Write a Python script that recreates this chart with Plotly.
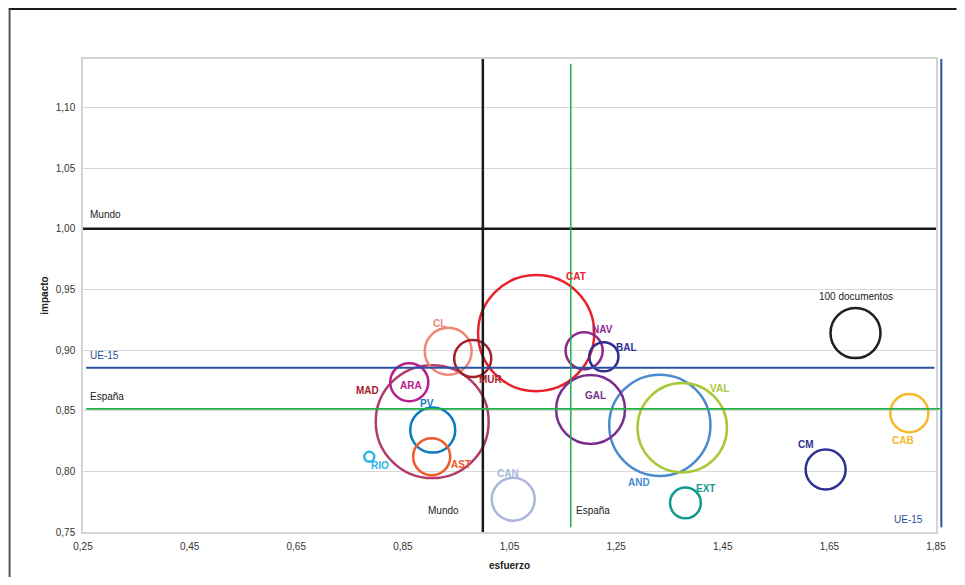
import plotly.graph_objects as go

# ---- data ----
regions = ["CAT", "MAD", "AND", "VAL", "GAL", "CL", "PV", "CAN", "CM", "ARA",
           "CAB", "MUR", "NAV", "AST", "EXT", "BAL", "RIO"]
esfuerzo = [1.100, 0.905, 1.332, 1.374, 1.202, 0.935, 0.906, 1.057, 1.643, 0.862,
            1.800, 0.981, 1.190, 0.904, 1.380, 1.227, 0.787]
impacto = [0.914, 0.841, 0.838, 0.836, 0.851, 0.899, 0.834, 0.777, 0.8015, 0.8735,
           0.848, 0.893, 0.8995, 0.812, 0.774, 0.8945, 0.812]
documentos = [540, 510, 410, 320, 190, 88, 81, 74, 64, 58,
              58, 55, 55, 55, 38, 34, 4]
colores = ["#e8212b", "#b23a6c", "#4a8bd0", "#a8c83a", "#7b2d8e", "#f08878", "#0a7cc1",
           "#a9b7db", "#2e3192", "#b5208e", "#f7b82a", "#a3212b", "#8e2a8e", "#f05a28",
           "#139a8e", "#2e3192", "#2bb5e3"]
label_colores = ["#e8212b", "#a3212b", "#4a8bd0", "#a8c83a", "#7b2d8e", "#f08878", "#0a7cc1",
                 "#a9b7db", "#2e3192", "#b5208e", "#f7b82a", "#a3212b", "#8e2a8e", "#f05a28",
                 "#139a8e", "#2e3192", "#2bb5e3"]
# label offsets (px) relative to bubble centre
label_dx = [40, -65, -21, 37, 5, -9, -6, -5, -20, 2, -6, 18, 18, 29, 20, 23, 11]
label_dy = [57, 31, -57, 39, 14, 28, 27, 26, 25, -3, -27, -21, 21, -8, 14, 9, -9]

ref_mundo = 1.00
ref_ue15_y = 0.8855
ref_espana_y = 0.8515
ref_espana_x = 1.165
ref_ue15_x = 1.86

leyenda_x, leyenda_y, leyenda_docs = 1.699, 0.914, 100

XR = [0.25, 1.85]
YR = [0.75, 1.14]
x_ticks = [0.25, 0.45, 0.65, 0.85, 1.05, 1.25, 1.45, 1.65, 1.85]
y_ticks = [0.75, 0.80, 0.85, 0.90, 0.95, 1.00, 1.05, 1.10]

FONT = "Liberation Sans, Arial, sans-serif"
D100 = 50  # px diameter for 100 documentos
sizeref = 2 * leyenda_docs / D100 ** 2

W, H = 949, 569
ML, MR, MT, MB = 74.5, 20.5, 51.3, 45
PW, PH = W - ML - MR, H - MT - MB


def px_(x):
    return (x - XR[0]) / (XR[1] - XR[0])


def py_(y):
    return (y - YR[0]) / (YR[1] - YR[0])


fig = go.Figure()
fig.add_trace(go.Scatter(
    x=esfuerzo, y=impacto, mode="markers",
    marker=dict(size=documentos, sizemode="area", sizeref=sizeref, opacity=1,
                color="rgba(0,0,0,0)", line=dict(color=colores, width=2.5)),
    hoverinfo="skip", cliponaxis=False))
fig.add_trace(go.Scatter(
    x=[leyenda_x], y=[leyenda_y], mode="markers",
    marker=dict(size=[leyenda_docs], sizemode="area", sizeref=sizeref, opacity=1,
                color="rgba(0,0,0,0)", line=dict(color="#1f1f1f", width=2.5)),
    hoverinfo="skip", cliponaxis=False))

shapes = []
# Mundo lines
shapes.append(dict(type="line", xref="paper", yref="paper", x0=0, x1=1,
                   y0=py_(ref_mundo), y1=py_(ref_mundo), line=dict(color="#1a1a1a", width=2.5)))
shapes.append(dict(type="line", xref="paper", yref="paper", x0=px_(ref_mundo), x1=px_(ref_mundo),
                   y0=0, y1=1, line=dict(color="#1a1a1a", width=2.5)))
# UE-15 lines
shapes.append(dict(type="line", xref="paper", yref="paper", x0=px_(0.256), x1=px_(1.847),
                   y0=py_(ref_ue15_y), y1=py_(ref_ue15_y), line=dict(color="#2a52a0", width=2)))
shapes.append(dict(type="line", xref="paper", yref="paper", x0=px_(ref_ue15_x), x1=px_(ref_ue15_x),
                   y0=py_(0.754), y1=1, line=dict(color="#2a52a0", width=2)))
# España lines
shapes.append(dict(type="line", xref="paper", yref="paper", x0=px_(0.256), x1=px_(ref_ue15_x),
                   y0=py_(ref_espana_y), y1=py_(ref_espana_y), line=dict(color="#22b04a", width=1.8)))
shapes.append(dict(type="line", xref="paper", yref="paper", x0=px_(ref_espana_x), x1=px_(ref_espana_x),
                   y0=py_(0.754), y1=py_(1.136), line=dict(color="#22b04a", width=1.5)))
# outer frame (page-level border)
top_y = (PH + MT - 1.2) / PH
left_x = (1 - ML) / PW
shapes.append(dict(type="line", xref="paper", yref="paper", x0=left_x - 0.001, x1=(W - ML) / PW,
                   y0=top_y, y1=top_y, line=dict(color="#1a1a1a", width=2.5)))
shapes.append(dict(type="line", xref="paper", yref="paper", x0=left_x, x1=left_x,
                   y0=-MB / PH, y1=top_y, line=dict(color="#555555", width=2)))

annotations = []
for r, x, y, c, dx, dy in zip(regions, esfuerzo, impacto, label_colores, label_dx, label_dy):
    annotations.append(dict(x=x, y=y, text="<b>%s</b>" % r, showarrow=False,
                            xanchor="center", yanchor="middle",
                            xshift=dx, yshift=dy, font=dict(family=FONT, size=10, color=c)))
annotations.append(dict(x=leyenda_x, y=leyenda_y, text="100 documentos", showarrow=False,
                        xanchor="center", yanchor="middle",
                        yshift=37, font=dict(family=FONT, size=10, color="#222")))
# reference labels
for txt, yv, col, dy in [("Mundo", ref_mundo, "#222", 14), ("UE-15", ref_ue15_y, "#2a52a0", 12),
                         ("España", ref_espana_y, "#222", 12)]:
    annotations.append(dict(x=0.26, y=yv, text=txt, showarrow=False, xanchor="left",
                            yanchor="middle",
                            yshift=dy, font=dict(family=FONT, size=10, color=col)))
for txt, xv, col, dx, dy in [("Mundo", ref_mundo, "#222", -39, 22), ("España", ref_espana_x, "#222", 22, 22),
                             ("UE-15", ref_ue15_x, "#2a52a0", -33, 13)]:
    annotations.append(dict(x=px_(xv), xref="paper", y=YR[0], text=txt, showarrow=False,
                            xanchor="center", yanchor="middle",
                            xshift=dx, yshift=dy, font=dict(family=FONT, size=10, color=col)))

fig.update_layout(
    width=W, height=H,
    margin=dict(l=ML, r=MR, t=MT, b=MB, pad=0),
    paper_bgcolor="white", plot_bgcolor="white",
    separators=",.",
    showlegend=False,
    shapes=shapes, annotations=annotations,
    font=dict(family=FONT, size=10, color="#333"),
    xaxis=dict(range=XR, tickvals=x_ticks, tickformat=".2f", showgrid=False, zeroline=False,
               automargin=False, ticks="", ticklen=0, ticklabelstandoff=4,
               showline=True, linecolor="#d4d4d4", linewidth=1.5, mirror=True,
               tickfont=dict(size=10, color="#333"),
               title=dict(text="<b>esfuerzo</b>", font=dict(size=10, color="#222"), standoff=11)),
    yaxis=dict(range=YR, tickvals=y_ticks, tickformat=".2f", showgrid=True, gridcolor="#d8d8d8",
               gridwidth=1, zeroline=False, automargin=False, ticks="", ticklen=0,
               ticklabelstandoff=4,
               showline=True, linecolor="#d4d4d4", linewidth=1.5, mirror=True,
               tickfont=dict(size=10, color="#333"),
               title=dict(text="<b>impacto</b>", font=dict(size=10, color="#222"), standoff=5)),
)

fig.write_html("out.html")
